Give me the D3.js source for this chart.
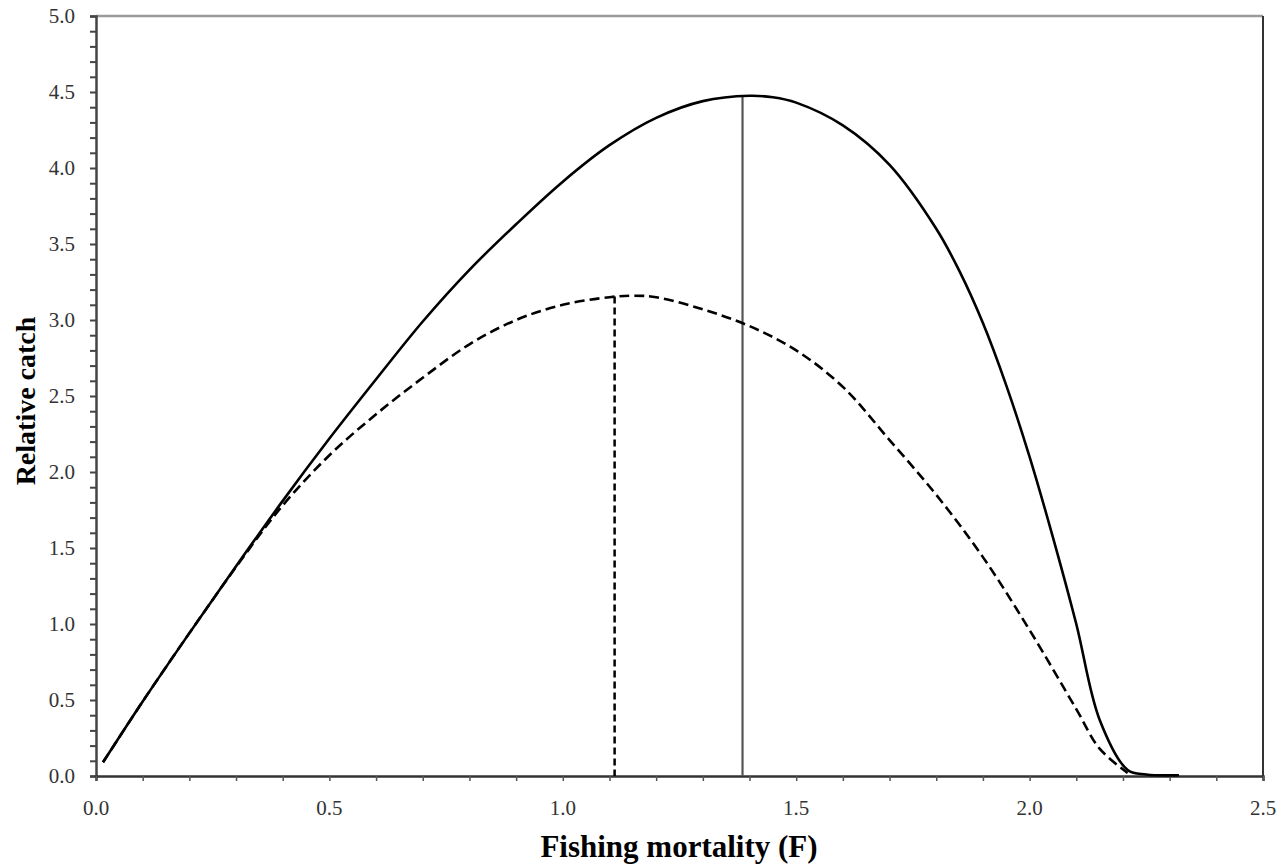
<!DOCTYPE html>
<html lang="en">
<head>
	<meta charset="utf-8">
	<title>Relative catch</title>
	<style>
		body { margin: 0; background: #fff; }
		text { font-family: "Liberation Serif", "Times New Roman", serif; }
		.tick-label { font-size: 21px; fill: #333; }
		.axis-title { font-weight: bold; fill: #000; }
	</style>
</head>
<body>
	<div id="chart"></div>

	<script src="https://d3js.org/d3.v7.min.js"></script>
	<script>
		// solid curve
		var solidF = [0.015, 0.1, 0.2, 0.3, 0.4, 0.5, 0.6, 0.7, 0.8, 0.9, 1.0, 1.1, 1.2, 1.3, 1.4, 1.45, 1.5, 1.6, 1.7, 1.8, 1.85, 1.9, 1.95, 2.0, 2.05, 2.1, 2.15, 2.21, 2.25, 2.32];
		var solidC = [0.09, 0.49, 0.94, 1.38, 1.81, 2.22, 2.61, 2.99, 3.33, 3.63, 3.91, 4.15, 4.33, 4.44, 4.475, 4.465, 4.43, 4.28, 4.02, 3.60, 3.32, 2.98, 2.57, 2.10, 1.57, 1.00, 0.37, 0.04, 0.01, 0.005];

		// dashed curve
		var dashF = [0.015, 0.1, 0.2, 0.3, 0.4, 0.5, 0.6, 0.7, 0.8, 0.9, 1.0, 1.1, 1.15, 1.2, 1.3, 1.4, 1.5, 1.6, 1.7, 1.8, 1.9, 2.0, 2.1, 2.15, 2.21];
		var dashC = [0.09, 0.49, 0.94, 1.375, 1.78, 2.11, 2.38, 2.62, 2.84, 3.00, 3.10, 3.15, 3.16, 3.15, 3.07, 2.96, 2.80, 2.56, 2.21, 1.85, 1.44, 0.96, 0.44, 0.18, 0.02];

		// maxima markers
		var solidMax = [1.385, 4.475];
		var dashMax = [1.111, 3.155];

		var xTicks = [0, 0.5, 1.0, 1.5, 2.0, 2.5];
		var yTicks = [0, 0.5, 1.0, 1.5, 2.0, 2.5, 3.0, 3.5, 4.0, 4.5, 5.0];

		var width = 1283,
		    height = 868,
		    margin = {top: 16, right: 20, bottom: 92, left: 96};

		var svg = d3.select("#chart")
			.append("svg")
			.attr("width", width)
			.attr("height", height);

		var x = d3.scaleLinear().domain([0, 2.5]).range([margin.left, width - margin.right]);
		var y = d3.scaleLinear().domain([0, 5]).range([height - margin.bottom, margin.top]);

		// frame: top grey, right dark
		svg.append("line")
			.attr("x1", x(0)).attr("x2", x(2.5))
			.attr("y1", y(5)).attr("y2", y(5))
			.attr("stroke", "#9a9a9a").attr("stroke-width", 2.5);
		svg.append("line")
			.attr("x1", x(2.5)).attr("x2", x(2.5))
			.attr("y1", y(5)).attr("y2", y(0))
			.attr("stroke", "#333").attr("stroke-width", 2);

		// y axis
		var yAxis = d3.axisLeft(y)
			.ticks(50)
			.tickSize(6)
			.tickFormat("");
		var gy = svg.append("g")
			.attr("transform", "translate(" + x(0) + ",0)")
			.call(yAxis);
		gy.select(".domain").attr("stroke", "#444").attr("stroke-width", 2.5);
		gy.selectAll(".tick line").attr("stroke", "#444").attr("stroke-width", 2);

		svg.selectAll(".ylab")
			.data(yTicks)
			.enter().append("text")
			.attr("class", "tick-label")
			.attr("x", x(0) - 21)
			.attr("y", function(d) { return y(d) + 7; })
			.attr("text-anchor", "end")
			.text(function(d) { return d3.format(".1f")(d); });

		// x axis
		var xAxis = d3.axisBottom(x)
			.ticks(25)
			.tickSize(5)
			.tickFormat("");
		var gx = svg.append("g")
			.attr("transform", "translate(0," + y(0) + ")")
			.call(xAxis);
		gx.select(".domain").attr("stroke", "#333").attr("stroke-width", 2.5);
		gx.selectAll(".tick line").attr("stroke", "#555").attr("stroke-width", 1.5);

		svg.selectAll(".xlab")
			.data(xTicks)
			.enter().append("text")
			.attr("class", "tick-label")
			.attr("x", function(d) { return x(d); })
			.attr("y", y(0) + 39)
			.attr("text-anchor", "middle")
			.text(function(d) { return d3.format(".1f")(d); });

		// titles
		svg.append("text")
			.attr("class", "axis-title")
			.attr("x", 679)
			.attr("y", 857)
			.attr("text-anchor", "middle")
			.style("font-size", "31px")
			.text("Fishing mortality (F)");

		svg.append("text")
			.attr("class", "axis-title")
			.attr("transform", "translate(35,401) rotate(-90)")
			.attr("text-anchor", "middle")
			.style("font-size", "28px")
			.text("Relative catch");

		// vertical markers
		svg.append("line")
			.attr("x1", x(solidMax[0])).attr("x2", x(solidMax[0]))
			.attr("y1", y(solidMax[1])).attr("y2", y(0))
			.attr("stroke", "#555").attr("stroke-width", 2.2);
		svg.append("line")
			.attr("x1", x(dashMax[0])).attr("x2", x(dashMax[0]))
			.attr("y1", y(dashMax[1])).attr("y2", y(0))
			.attr("stroke", "#000").attr("stroke-width", 2.5)
			.attr("stroke-dasharray", "7,4");

		var line = d3.line()
			.x(function(d) { return x(d[0]); })
			.y(function(d) { return y(d[1]); })
			.curve(d3.curveCatmullRom.alpha(0.5));

		svg.append("path")
			.datum(d3.zip(dashF, dashC))
			.attr("d", line)
			.attr("fill", "none")
			.attr("stroke", "#000")
			.attr("stroke-width", 2.6)
			.attr("stroke-dasharray", "10,5");

		svg.append("path")
			.datum(d3.zip(solidF, solidC))
			.attr("d", line)
			.attr("fill", "none")
			.attr("stroke", "#000")
			.attr("stroke-width", 2.6);
	</script>
</body>
</html>
